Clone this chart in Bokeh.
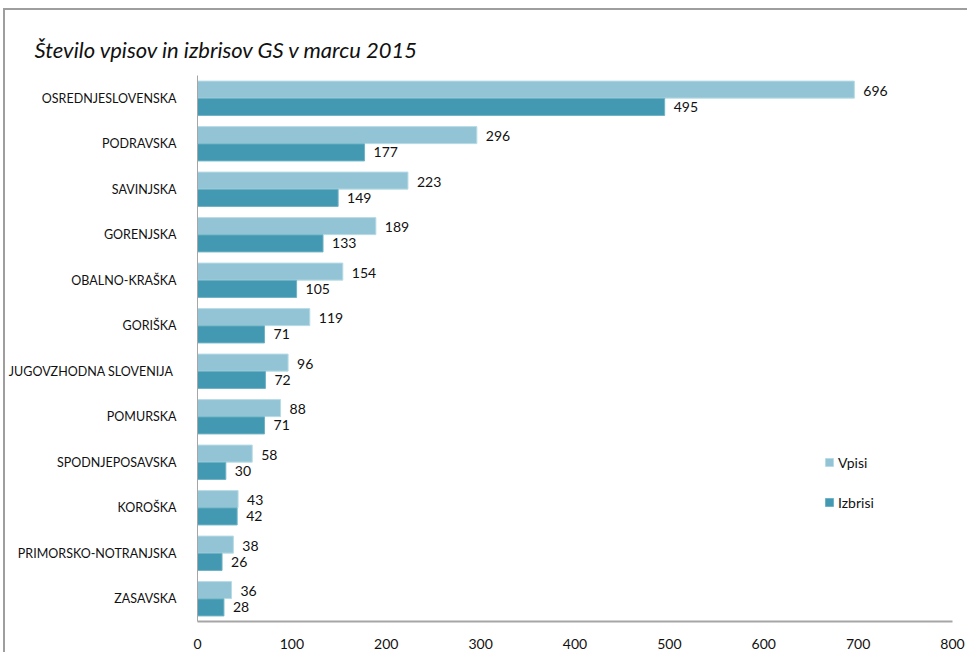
from bokeh.plotting import figure
from bokeh.models import ColumnDataSource, FactorRange, Range1d, Legend, LegendItem, FixedTicker
from bokeh.transform import dodge
from bokeh.core.properties import value
from bokeh.embed import file_html
from bokeh.resources import INLINE

regions = ["OSREDNJESLOVENSKA", "PODRAVSKA", "SAVINJSKA", "GORENJSKA", "OBALNO-KRAŠKA",
           "GORIŠKA", "JUGOVZHODNA  SLOVENIJA", "POMURSKA", "SPODNJEPOSAVSKA", "KOROŠKA",
           "PRIMORSKO-NOTRANJSKA", "ZASAVSKA"]
vpisi = [696, 296, 223, 189, 154, 119, 96, 88, 58, 43, 38, 36]
izbrisi = [495, 177, 149, 133, 105, 71, 72, 71, 30, 42, 26, 28]
x_ticks = [0, 100, 200, 300, 400, 500, 600, 700, 800]
title = "Število vpisov in izbrisov GS v marcu 2015"

FONT = "Lato"
C_V = "#93C4D5"
C_I = "#4299B1"

src = ColumnDataSource(dict(region=regions, vpisi=vpisi, izbrisi=izbrisi,
                            vl=[str(v) for v in vpisi], il=[str(v) for v in izbrisi]))

p = figure(width=967, height=652, output_backend="svg", toolbar_location=None,
           y_range=FactorRange(factors=regions[::-1], range_padding=0),
           x_range=Range1d(0, 800))
p.min_border_left = 197
p.min_border_right = 15
p.min_border_top = 75
p.min_border_bottom = 31
p.outline_line_color = None
p.grid.visible = False
p.border_fill_alpha = 0
p.background_fill_color = "white"
p.styles = {"background": "linear-gradient(#9E9E9E,#9E9E9E) 3px 8px / 100% 2px no-repeat, "
                          "linear-gradient(#9E9E9E,#9E9E9E) 3px 8px / 2px 100% no-repeat, white"}

p.title.text = title
p.title.align = "left"
p.title.offset = -163
p.title.standoff = 26
p.title.text_font = FONT
p.title.text_font_style = "italic"
p.title.text_font_size = "22px"
p.title.text_color = "#111111"

rv = p.hbar(y=dodge("region", 0.19, range=p.y_range), right="vpisi", left=0, height=0.375,
            source=src, fill_color=C_V, line_color="#B8DCE6", line_width=1)
ri = p.hbar(y=dodge("region", -0.19, range=p.y_range), right="izbrisi", left=0, height=0.375,
            source=src, fill_color=C_I, line_color="#6FB3C6", line_width=1)

p.text(x="vpisi", y=dodge("region", 0.17, range=p.y_range), text="vl", source=src,
       x_offset=9, text_baseline="middle", text_font=value(FONT), text_font_size="14px",
       text_color="#111111")
p.text(x="izbrisi", y=dodge("region", -0.19, range=p.y_range), text="il", source=src,
       x_offset=9, text_baseline="middle", text_font=value(FONT), text_font_size="14px",
       text_color="#111111")

xa = p.xaxis[0]
xa.ticker = FixedTicker(ticks=x_ticks)
xa.major_tick_line_color = None
xa.minor_tick_line_color = None
xa.axis_line_color = "#A6A6A6"
xa.axis_line_width = 2
xa.major_label_standoff = 11
xa.major_label_text_font = FONT
xa.major_label_text_font_size = "14px"
xa.major_label_text_color = "#111111"

ya = p.yaxis[0]
ya.major_tick_line_color = None
ya.minor_tick_line_color = None
ya.axis_line_color = "#A6A6A6"
ya.axis_line_width = 1
ya.major_label_standoff = 15
ya.major_label_text_font = FONT
ya.major_label_text_font_size = "12.5px"
ya.major_label_text_color = "#111111"

legend = Legend(items=[LegendItem(label="Vpisi", renderers=[rv]),
                       LegendItem(label="Izbrisi", renderers=[ri])],
                location=(627, 109), orientation="vertical",
                glyph_width=10, glyph_height=10, label_height=20, spacing=20,
                padding=0, margin=0, border_line_color=None, background_fill_alpha=0,
                label_text_font=FONT, label_text_font_size="14px", label_text_color="#111111",
                label_standoff=4)
p.add_layout(legend, "center")

open("out.html", "w").write(file_html(p, INLINE))
